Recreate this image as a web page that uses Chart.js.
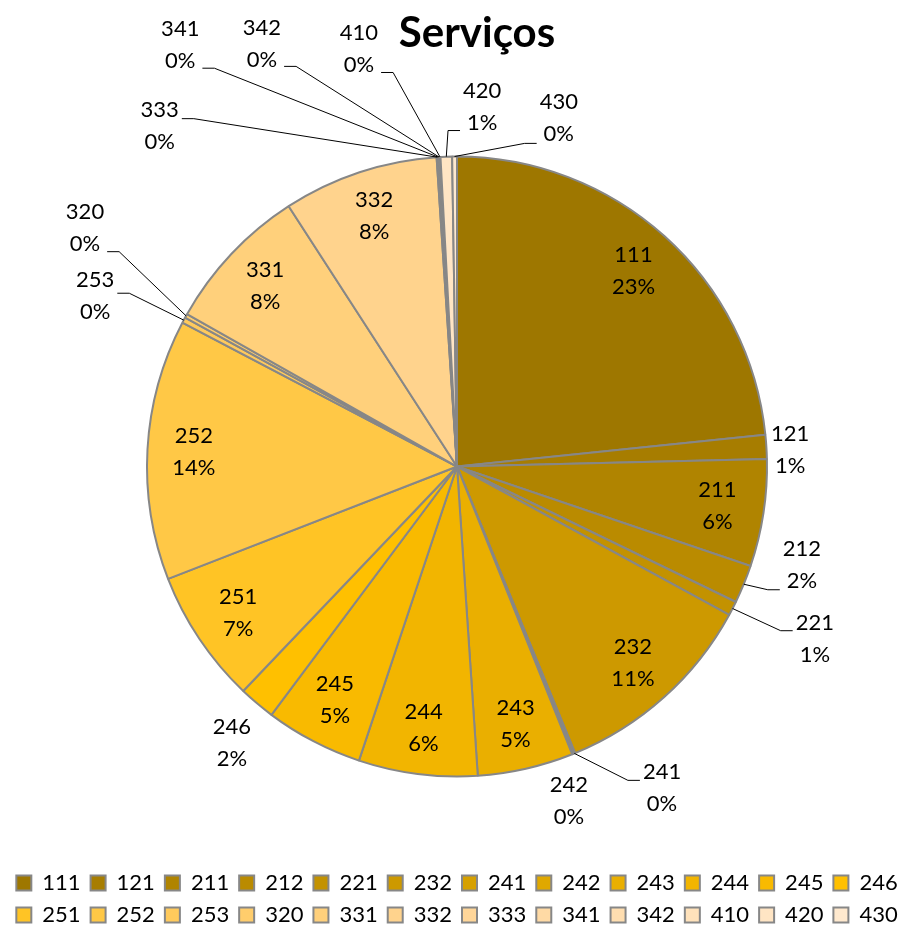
<!DOCTYPE html>
<html>
<head>
<meta charset="utf-8">
<title>Serviços</title>
<script src="https://cdn.jsdelivr.net/npm/chart.js@4/dist/chart.umd.min.js"></script>
<style>
  body { margin: 0; background: #fff; }
  canvas { display: block; }
</style>
</head>
<body>
<canvas id="servicosChart" width="915" height="936"></canvas>
<script>
// --- DATA ---
const categories = ['111', '121', '211', '212', '221', '232', '241', '242', '243', '244', '245', '246',
  '251', '252', '253', '320', '331', '332', '333', '341', '342', '410', '420', '430'];
const serviceShares = [23.4, 1.25, 5.6, 2.0, 0.75, 10.85, 0.08, 0.08, 5.0, 6.2, 5.1, 1.9,
  7.0, 13.6, 0.3, 0.2, 7.7, 8.1, 0.05, 0.05, 0.05, 0.05, 0.6, 0.25];
const sliceColors = ['#9E7700', '#A77D00', '#B08400', '#BA8B00', '#C39200', '#CD9900', '#D6A000', '#E0A800',
  '#EAAF00', '#F2B500', '#F9BA00', '#FFC000', '#FFC425', '#FFC846', '#FFCA5C', '#FFCD6C',
  '#FFD07B', '#FFD38D', '#FFD699', '#FFDAA5', '#FFDEB0', '#FFE2BB', '#FFE5C4', '#FFE9CE'];
const chartTitle = 'Serviços';

// labels outside the pie: [angle from 12 o'clock in deg, distance in radii, leader attach offset in px or null]
const outsideLabels = {
  '121': [87.1, 1.076, null],
  '212': [105.9, 1.157, 25],
  '221': [115.7, 1.281, -8],
  '241': [147.5, 1.231, -8],
  '242': [161.5, 1.137, null],
  '246': [219.2, 1.149, null],
  '253': [295.2, 1.29, -3],
  '320': [302.7, 1.426, 24],
  '333': [318.9, 1.459, -7],
  '341': [326.7, 1.626, 23],
  '342': [335.2, 1.5, 22],
  '410': [346.8, 1.385, 24],
  '420': [4.0, 1.164, 24],
  '430': [16.3, 1.17, 25]
};

Chart.defaults.font.family = 'Lato';
Chart.defaults.color = '#000';

// --- TITRE + ETIQUETTES ---
const sliceLabels = {
  id: 'sliceLabels',
  afterDatasetsDraw(chart) {
    const ctx = chart.ctx;
    const arcs = chart.getDatasetMeta(0).data;
    const total = serviceShares.reduce((a, b) => a + b, 0);
    ctx.save();
    ctx.textAlign = 'center';
    ctx.textBaseline = 'middle';
    ctx.fillStyle = '#000';
    ctx.strokeStyle = '#000';
    ctx.lineWidth = 1;
    ctx.font = '22px Lato';
    arcs.forEach((arc, i) => {
      const { x, y, startAngle, endAngle, outerRadius } =
        arc.getProps(['x', 'y', 'startAngle', 'endAngle', 'outerRadius'], true);
      const mid = (startAngle + endAngle) / 2;
      const pct = Math.round(serviceShares[i] / total * 100) + '%';
      const place = outsideLabels[categories[i]];
      let lx, ly;
      if (place) {
        const a = (place[0] - 90) * Math.PI / 180;
        lx = x + Math.cos(a) * outerRadius * place[1];
        ly = y + Math.sin(a) * outerRadius * place[1];
        if (place[2] !== null) {
          // leader line: short horizontal at the label, then to the slice edge
          const px = x + Math.cos(mid) * outerRadius;
          const py = y + Math.sin(mid) * outerRadius;
          const half = Math.max(ctx.measureText(categories[i]).width, ctx.measureText(pct).width) / 2;
          const dir = lx < px ? 1 : -1;
          const ex = lx + dir * (half + 3);
          const ey = ly + place[2];
          ctx.beginPath();
          ctx.moveTo(ex, ey);
          ctx.lineTo(ex + dir * 12, ey);
          ctx.lineTo(px, py);
          ctx.stroke();
        }
      } else {
        lx = x + Math.cos(mid) * outerRadius * 0.85;
        ly = y + Math.sin(mid) * outerRadius * 0.85;
      }
      ctx.fillText(categories[i], lx, ly - 16);
      ctx.fillText(pct, lx, ly + 16);
    });
    // titre
    ctx.font = 'bold 42px Lato';
    ctx.fillText(chartTitle, (chart.chartArea.left + chart.chartArea.right) / 2 + 20, 33);
    ctx.restore();
  }
};

// --- GRAPH ---
const ctx = document.getElementById('servicosChart').getContext('2d');
const servicosChart = new Chart(ctx, {
  type: 'pie',
  data: {
    labels: categories,
    datasets: [{
      data: serviceShares,
      backgroundColor: sliceColors,
      borderColor: '#878787',
      borderWidth: 2,
      radius: 310,
      hoverOffset: 0
    }]
  },
  options: {
    responsive: false,
    animation: false,
    events: [],
    layout: { padding: { top: 71, left: 0, right: 1, bottom: 0 } },
    plugins: {
      title: { display: false },
      tooltip: { enabled: false },
      legend: {
        position: 'bottom',
        labels: {
          boxWidth: 15,
          boxHeight: 15,
          padding: 10,
          font: { size: 22 },
          color: '#000'
        }
      }
    }
  },
  plugins: [sliceLabels]
});
</script>
</body>
</html>
